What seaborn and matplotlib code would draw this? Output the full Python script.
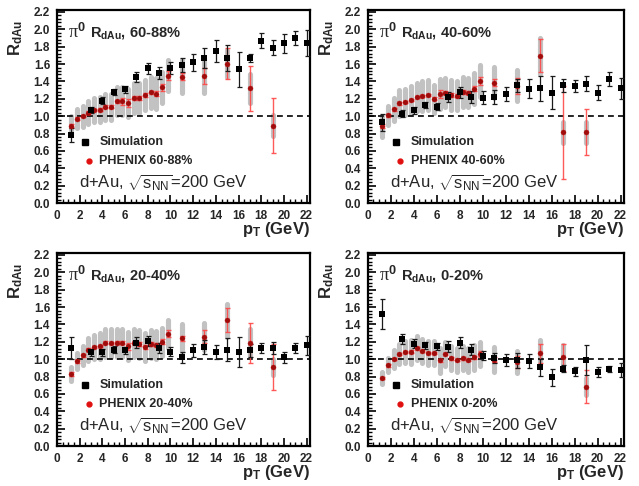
import matplotlib
matplotlib.use("Agg")
import matplotlib.pyplot as plt
from matplotlib.ticker import MultipleLocator, FormatStrFormatter
import pandas as pd
import seaborn as sns

# ---------------- data ----------------
centralities = ["60-88%", "40-60%", "20-40%", "0-20%"]

sim_pt = [1.25, 3, 4, 5, 6, 7, 8, 9, 10, 11, 12, 13, 14, 15, 16, 17, 18, 19, 20, 21, 22]
sim_60_88 = [0.78, 1.07, 1.18, 1.28, 1.31, 1.45, 1.55, 1.50, 1.55, 1.59, 1.62, 1.67, 1.75, 1.67, 1.54, 1.67, 1.87, 1.79, 1.84, 1.90, 1.84]
sim_60_88_err = [0.08, 0.035, 0.04, 0.035, 0.04, 0.06, 0.065, 0.07, 0.07, 0.08, 0.10, 0.11, 0.125, 0.15, 0.20, 0.05, 0.09, 0.09, 0.11, 0.08, 0.15]
sim_40_60 = [0.93, 1.03, 1.07, 1.125, 1.11, 1.22, 1.275, 1.22, 1.21, 1.22, 1.255, 1.355, 1.315, 1.32, 1.27, 1.355, 1.345, 1.375, 1.27, 1.43, 1.32]
sim_40_60_err = [0.10, 0.04, 0.04, 0.035, 0.04, 0.06, 0.065, 0.07, 0.075, 0.08, 0.077, 0.075, 0.11, 0.146, 0.19, 0.073, 0.07, 0.087, 0.085, 0.083, 0.12]
sim_20_40 = [1.13, 1.08, 1.08, 1.11, 1.10, 1.19, 1.21, 1.13, 1.085, 1.02, 1.10, 1.14, 1.08, 1.11, 1.085, 1.10, 1.13, 1.13, 1.02, 1.13, 1.16]
sim_20_40_err = [0.13, 0.04, 0.04, 0.04, 0.045, 0.06, 0.06, 0.06, 0.05, 0.06, 0.08, 0.08, 0.08, 0.13, 0.17, 0.07, 0.06, 0.07, 0.065, 0.06, 0.11]
sim_0_20 = [1.52, 1.235, 1.18, 1.16, 1.15, 1.145, 1.19, 1.11, 1.04, 1.01, 0.99, 0.985, 0.975, 0.905, 0.79, 0.89, 0.86, 0.99, 0.85, 0.885, 0.87]
sim_0_20_err = [0.17, 0.06, 0.05, 0.04, 0.04, 0.06, 0.06, 0.065, 0.05, 0.06, 0.07, 0.09, 0.08, 0.10, 0.10, 0.04, 0.05, 0.17, 0.055, 0.035, 0.08]

phx_pt = [1.25, 1.75, 2.25, 2.75, 3.25, 3.75, 4.25, 4.75, 5.25, 5.75, 6.25, 6.75,
          7.25, 7.75, 8.25, 8.75, 9.25, 9.75, 11, 13, 15, 17, 19]
phx_60_88 = [0.89, 0.97, 1.00, 1.04, 1.07, 1.075, 1.11, 1.11, 1.17, 1.17, 1.15, 1.21,
             1.21, 1.245, 1.275, 1.26, 1.33, 1.465, 1.455, 1.465, 1.605, 1.32, 0.89]
phx_60_88_stat = [0.02, 0.015, 0.015, 0.015, 0.015, 0.015, 0.015, 0.015, 0.02, 0.04, 0.05, 0.02,
                  0.02, 0.02, 0.02, 0.03, 0.04, 0.05, 0.04, 0.09, 0.18, 0.26, 0.32]
phx_60_88_sys = [0.11, 0.11, 0.12, 0.13, 0.135, 0.14, 0.15, 0.15, 0.16, 0.16, 0.16, 0.17,
                 0.17, 0.17, 0.18, 0.18, 0.18, 0.18, 0.19, 0.20, 0.16, 0.17, 0.12]
phx_40_60 = [0.885, 1.008, 1.077, 1.147, 1.165, 1.185, 1.22, 1.23, 1.243, 1.20, 1.254, 1.27,
             1.243, 1.236, 1.277, 1.27, 1.315, 1.404, 1.385, 1.35, 1.693, 0.812, 0.812]
phx_40_60_stat = [0.02, 0.015, 0.015, 0.015, 0.015, 0.015, 0.015, 0.015, 0.015, 0.015, 0.05, 0.02,
                  0.02, 0.02, 0.02, 0.02, 0.03, 0.05, 0.04, 0.09, 0.19, 0.53, 0.265]
phx_40_60_sys = [0.12, 0.11, 0.13, 0.15, 0.15, 0.16, 0.16, 0.17, 0.17, 0.16, 0.17, 0.17,
                 0.17, 0.17, 0.17, 0.17, 0.18, 0.18, 0.18, 0.18, 0.21, 0.12, 0.12]
phx_20_40 = [0.83, 0.975, 1.045, 1.11, 1.14, 1.15, 1.19, 1.185, 1.19, 1.19, 1.15, 1.19,
             1.175, 1.14, 1.175, 1.165, 1.20, 1.29, 1.24, 1.26, 1.45, 1.19, 0.91]
phx_20_40_stat = [0.02, 0.015, 0.015, 0.015, 0.015, 0.015, 0.015, 0.015, 0.015, 0.015, 0.04, 0.02,
                  0.02, 0.02, 0.02, 0.02, 0.03, 0.04, 0.03, 0.07, 0.14, 0.23, 0.26]
phx_20_40_sys = [0.08, 0.09, 0.11, 0.13, 0.14, 0.15, 0.16, 0.16, 0.16, 0.16, 0.16, 0.16,
                 0.16, 0.16, 0.16, 0.16, 0.16, 0.16, 0.16, 0.16, 0.19, 0.16, 0.09]
phx_0_20 = [0.785, 0.93, 1.00, 1.06, 1.08, 1.085, 1.125, 1.095, 1.07, 1.07, 0.985, 1.06,
            1.01, 0.99, 1.01, 0.99, 1.02, 1.06, 0.995, 0.965, 1.07, 1.02, 0.685]
phx_0_20_stat = [0.015, 0.015, 0.015, 0.015, 0.015, 0.015, 0.015, 0.015, 0.015, 0.015, 0.015, 0.015,
                 0.015, 0.015, 0.015, 0.015, 0.02, 0.03, 0.03, 0.07, 0.11, 0.16, 0.19]
phx_0_20_sys = [0.07, 0.08, 0.10, 0.12, 0.13, 0.14, 0.14, 0.14, 0.14, 0.14, 0.14, 0.14,
                0.14, 0.14, 0.14, 0.14, 0.14, 0.14, 0.14, 0.13, 0.15, 0.14, 0.10]

x_ticks = [0, 2, 4, 6, 8, 10, 12, 14, 16, 18, 20, 22]
y_ticks = [0.0, 0.2, 0.4, 0.6, 0.8, 1.0, 1.2, 1.4, 1.6, 1.8, 2.0, 2.2]

sim_values = [sim_60_88, sim_40_60, sim_20_40, sim_0_20]
sim_errors = [sim_60_88_err, sim_40_60_err, sim_20_40_err, sim_0_20_err]
phx_values = [phx_60_88, phx_40_60, phx_20_40, phx_0_20]
phx_stats = [phx_60_88_stat, phx_40_60_stat, phx_20_40_stat, phx_0_20_stat]
phx_syss = [phx_60_88_sys, phx_40_60_sys, phx_20_40_sys, phx_0_20_sys]

sim_df = pd.concat([pd.DataFrame({"pt": sim_pt, "R": v, "err": e, "cent": c})
                    for c, v, e in zip(centralities, sim_values, sim_errors)])
phx_df = pd.concat([pd.DataFrame({"pt": phx_pt, "R": v, "stat": st, "sys": sy, "cent": c})
                    for c, v, st, sy in zip(centralities, phx_values, phx_stats, phx_syss)])

# ---------------- style ----------------
sns.set_style("ticks")
plt.rcParams["font.family"] = ["Liberation Sans", "DejaVu Sans"]
plt.rcParams["mathtext.fontset"] = "custom"
plt.rcParams["mathtext.rm"] = "Liberation Sans"
plt.rcParams["mathtext.bf"] = "Liberation Sans:bold"
plt.rcParams["mathtext.it"] = "Liberation Serif"

fig = plt.figure(figsize=(6.39, 4.86), dpi=100)
W, H = 639.0, 486.0
rects = [(57, 10, 310, 203), (367.7, 10, 624, 203),
         (57, 253, 310, 446), (367.7, 253, 624, 446)]

for cent, (x0, y0, x1, y1) in zip(centralities, rects):
    ax = fig.add_axes([x0 / W, 1 - y1 / H, (x1 - x0) / W, (y1 - y0) / H])
    s = sim_df[sim_df["cent"] == cent]
    p = phx_df[phx_df["cent"] == cent]

    boxes = ax.vlines(p["pt"], p["R"] - p["sys"], p["R"] + p["sys"],
                      color="#c2c2c2", lw=3.7, zorder=1)
    boxes.set_capstyle("round")
    ax.axhline(1.0, color="black", lw=1.2, ls=(0, (3.5, 2.5)), zorder=1.5)
    ax.errorbar(p["pt"], p["R"], yerr=p["stat"], fmt="none", ecolor="#ff4848",
                elinewidth=1.0, capsize=1.8, capthick=1.0, zorder=3, alpha=0.9)
    ax.errorbar(s["pt"], s["R"], yerr=s["err"], fmt="none", ecolor="#1a1a1a",
                elinewidth=0.9, capsize=1.8, capthick=0.9, zorder=4)
    sns.scatterplot(data=p, x="pt", y="R", ax=ax, marker="o", s=13, color="#9e0c0c",
                    edgecolor="#c01010", linewidth=0.3, zorder=5, legend=False)
    sns.scatterplot(data=s, x="pt", y="R", ax=ax, marker="s", s=20, color="black",
                    edgecolor="black", linewidth=0, zorder=6, legend=False)

    ax.set_xlim(0, 22.3)
    ax.set_ylim(0, 2.222)
    ax.set_xticks(x_ticks)
    ax.set_yticks(y_ticks)
    ax.xaxis.set_minor_locator(MultipleLocator(0.5))
    ax.yaxis.set_minor_locator(MultipleLocator(0.04))
    ax.yaxis.set_major_formatter(FormatStrFormatter("%.1f"))
    ax.tick_params(which="both", direction="in", bottom=True, left=True,
                   top=False, right=False, color="black")
    ax.tick_params(which="major", length=6, width=1.2, labelsize=8.5, pad=5)
    ax.tick_params(which="minor", length=3, width=1.0)
    for lab in ax.get_xticklabels() + ax.get_yticklabels():
        lab.set_fontweight("bold")
    for sp in ax.spines.values():
        sp.set_visible(True)
        sp.set_linewidth(1.6)
        sp.set_color("black")

    ax.set_xlabel(r"$\mathbf{p}_{\mathbf{T}}$ (GeV)", fontsize=12, fontweight="bold", loc="right")
    ax.xaxis.set_label_coords(1.0, -0.09)
    ax.set_ylabel(r"$\mathbf{R}_{\mathbf{dAu}}$", fontsize=12, loc="top")
    ax.yaxis.set_label_coords(-0.125, 0.95)

    ax.text(0.045, 0.885, r"$\pi^{\mathbf{0}}$", transform=ax.transAxes,
            fontsize=13, va="center", ha="left")
    ax.text(0.130, 0.88, r"$\mathbf{R}_{\mathbf{dAu}}$, " + cent,
            transform=ax.transAxes, fontsize=10.5, fontweight="bold", va="center", ha="left")

    ax.plot([0.111], [0.318], marker="s", ms=4, color="black", ls="none",
            transform=ax.transAxes, clip_on=False)
    ax.text(0.167, 0.318, "Simulation", transform=ax.transAxes, fontsize=9,
            fontweight="bold", va="center", ha="left")
    ax.plot([0.125], [0.218], marker="o", ms=3.5, color="#e01010", ls="none",
            transform=ax.transAxes, clip_on=False)
    ax.text(0.167, 0.218, "PHENIX " + cent, transform=ax.transAxes, fontsize=9,
            fontweight="bold", va="center", ha="left")
    ax.text(0.088, 0.105, r"d+Au, $\sqrt{\mathrm{s}_{\mathrm{NN}}}$=200 GeV",
            transform=ax.transAxes, fontsize=12, va="center", ha="left")

fig.savefig("out.png", dpi=100)
